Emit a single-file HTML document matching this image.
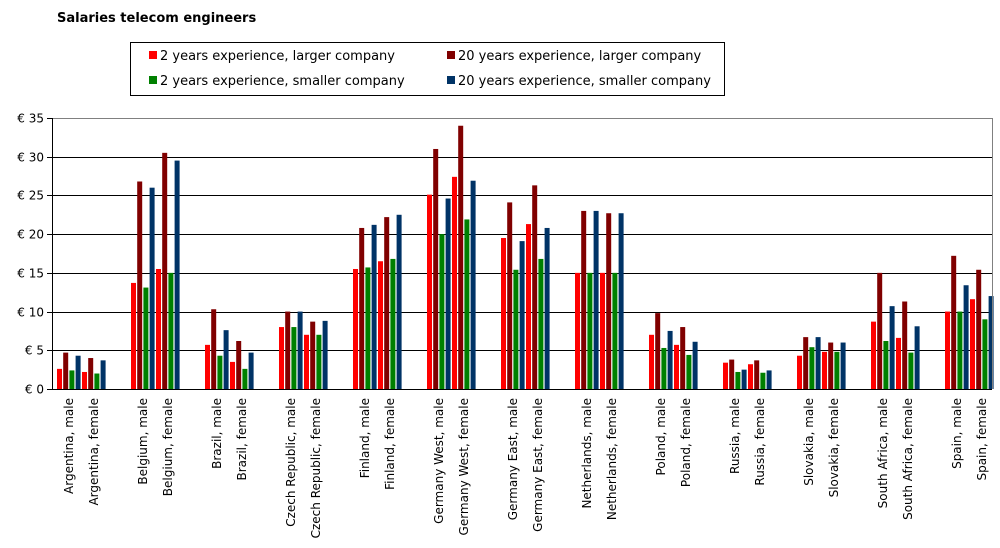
<!DOCTYPE html>
<html><head><meta charset="utf-8"><style>
body{margin:0;background:#fff;font-family:"DejaVu Sans","Liberation Sans",sans-serif;}
svg text{font-family:"DejaVu Sans","Liberation Sans",sans-serif;}
</style></head><body>
<svg id="chart" width="1000" height="544" xmlns="http://www.w3.org/2000/svg">
<text x="57" y="22" font-size="13" font-weight="bold">Salaries telecom engineers</text>
<g>
<rect x="130.5" y="42.5" width="594" height="53" fill="#fff" stroke="#000"/>
<g><rect x="149" y="51" width="8" height="8" fill="#ff0000"/><text x="160" y="60" font-size="13">2 years experience, larger company</text></g>
<g><rect x="447" y="51" width="8" height="8" fill="#800000"/><text x="458" y="60" font-size="13">20 years experience, larger company</text></g>
<g><rect x="149" y="76" width="8" height="8" fill="#008000"/><text x="160" y="85" font-size="13">2 years experience, smaller company</text></g>
<g><rect x="447" y="76" width="8" height="8" fill="#003366"/><text x="458" y="85" font-size="13">20 years experience, smaller company</text></g>
</g>
<g id="grid"></g><g id="bars"></g><g id="axes"></g>
</svg>
<script>
const categories=["Argentina, male","Argentina, female","Belgium, male","Belgium, female","Brazil, male","Brazil, female","Czech Republic, male","Czech Republic, female","Finland, male","Finland, female","Germany West, male","Germany West, female","Germany East, male","Germany East, female","Netherlands, male","Netherlands, female","Poland, male","Poland, female","Russia, male","Russia, female","Slovakia, male","Slovakia, female","South Africa, male","South Africa, female","Spain, male","Spain, female"];
const y2Large=[2.6,2.2,13.7,15.5,5.7,3.5,8.0,7.0,15.5,16.5,25.1,27.4,19.5,21.3,15,15,7.0,5.7,3.4,3.2,4.3,4.8,8.7,6.6,10.0,11.6];
const y20Large=[4.7,4.0,26.8,30.5,10.3,6.2,10.0,8.7,20.8,22.2,31.0,34.0,24.1,26.3,23.0,22.7,9.8,8.0,3.8,3.7,6.7,6.0,15.0,11.3,17.2,15.4];
const y2Small=[2.4,2.0,13.1,15.0,4.3,2.6,8.0,7.0,15.7,16.8,20.0,21.9,15.4,16.8,15,15,5.3,4.4,2.2,2.1,5.4,4.8,6.2,4.7,10.0,9.0];
const y20Small=[4.3,3.7,26.0,29.5,7.6,4.7,10.0,8.8,21.2,22.5,24.6,26.9,19.1,20.8,23.0,22.7,7.5,6.1,2.5,2.4,6.7,6.0,10.7,8.1,13.4,12.0];
const yTicks=[0,5,10,15,20,25,30,35];
const yTickLabels=["€ 0","€ 5","€ 10","€ 15","€ 20","€ 25","€ 30","€ 35"];
const NS="http://www.w3.org/2000/svg";
const X0=52,X1=992,Y0=389,Y1=118,YMAX=35;
function yScale(v){return Y0-(v/YMAX)*(Y0-Y1);}
function xStart(i){return 57+Math.floor(i/2)*74+(i%2)*25;}
function mk(tag,attrs,parent){const e=document.createElementNS(NS,tag);for(const k in attrs)e.setAttribute(k,attrs[k]);parent.appendChild(e);return e;}
const grid=document.getElementById('grid'),bars=document.getElementById('bars'),axes=document.getElementById('axes');
yTicks.forEach((t,i)=>{
 const y=Math.round(yScale(t))+0.5;
 if(t>0){const l=mk('line',{x1:X0,x2:X1,y1:y,y2:y,stroke:t===YMAX?'#808080':'#000','stroke-width':1},grid);
 
 }
 mk('line',{x1:X0-5,x2:X0,y1:y,y2:y,stroke:'#000'},axes);
 const tx=mk('text',{x:44,y:y+4,'font-size':12,'text-anchor':'end'},axes);
 tx.textContent=yTickLabels[i];
 
 
});
const series=[[y2Large,'#ff0000','bar-2y-large'],[y20Large,'#800000','bar-20y-large'],[y2Small,'#008000','bar-2y-small'],[y20Small,'#003366','bar-20y-small']];
categories.forEach((c,i)=>{
 series.forEach((s,j)=>{
  const v=s[0][i];const y=yScale(v);
  const r=mk('rect',{x:xStart(i)+j*6.2,y:y,width:5,height:Y0-y,fill:s[1]},bars);
  
  
 });
 const cx=xStart(i)+12+4;
 const t=mk('text',{x:0,y:0,'font-size':12,'text-anchor':'end',transform:`translate(${cx},398) rotate(-90)`},axes);
 t.textContent=c;
 
 
});
mk('line',{x1:X0+0.5,x2:X0+0.5,y1:Y1,y2:Y0,stroke:'#000'},axes);
mk('line',{x1:X1+0.5,x2:X1+0.5,y1:Y1,y2:Y0,stroke:'#808080'},axes);
mk('line',{x1:X0,x2:X1,y1:Y0+0.5,y2:Y0+0.5,stroke:'#000'},axes);
</script>
</body></html>
